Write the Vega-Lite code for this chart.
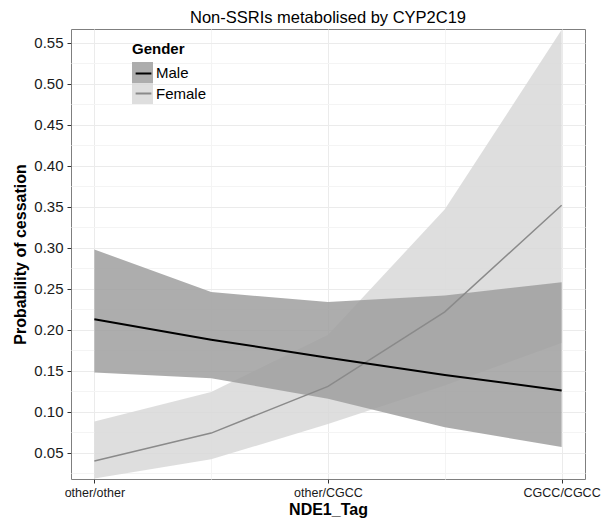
{
  "$schema": "https://vega.github.io/schema/vega-lite/v6.json",
  "width": 514,
  "height": 450,
  "autosize": {"type": "none"},
  "padding": {"left": 71, "top": 29, "right": 22, "bottom": 45},
  "config": {
    "font": "Liberation Sans",
    "view": {"stroke": "#7f7f7f", "strokeWidth": 1},
    "legend": {"padding": 0}
  },
  "title": {
    "text": "Non-SSRIs metabolised by CYP2C19",
    "fontSize": 16.5,
    "fontWeight": "normal",
    "color": "#000000",
    "anchor": "middle",
    "offset": 3
  },
  "data": {
    "values": [
      {"NDE1_Tag": 0, "Gender": "Male", "p": 0.213, "lo": 0.148, "hi": 0.298},
      {"NDE1_Tag": 0.5, "Gender": "Male", "p": 0.188, "lo": 0.141, "hi": 0.246},
      {"NDE1_Tag": 1, "Gender": "Male", "p": 0.166, "lo": 0.116, "hi": 0.234},
      {"NDE1_Tag": 1.5, "Gender": "Male", "p": 0.145, "lo": 0.081, "hi": 0.242},
      {"NDE1_Tag": 2, "Gender": "Male", "p": 0.126, "lo": 0.057, "hi": 0.258},
      {"NDE1_Tag": 0, "Gender": "Female", "p": 0.040, "lo": 0.0185, "hi": 0.088},
      {"NDE1_Tag": 0.5, "Gender": "Female", "p": 0.074, "lo": 0.042, "hi": 0.124},
      {"NDE1_Tag": 1, "Gender": "Female", "p": 0.131, "lo": 0.085, "hi": 0.194},
      {"NDE1_Tag": 1.5, "Gender": "Female", "p": 0.222, "lo": 0.132, "hi": 0.347},
      {"NDE1_Tag": 2, "Gender": "Female", "p": 0.352, "lo": 0.184, "hi": 0.566}
    ]
  },
  "encoding": {
    "x": {
      "field": "NDE1_Tag",
      "type": "quantitative",
      "scale": {"domain": [-0.1, 2.1], "nice": false, "zero": false},
      "axis": {
        "title": "NDE1_Tag",
        "values": [0, 0.5, 1, 1.5, 2],
        "labelExpr": "datum.value == 0 ? 'other/other' : datum.value == 1 ? 'other/CGCC' : datum.value == 2 ? 'CGCC/CGCC' : ''",
        "domain": false,
        "grid": true,
        "gridColor": {"condition": {"test": "datum.value % 1 != 0", "value": "#f4f4f4"}, "value": "#ebebeb"},
        "tickColor": "#333333",
        "tickSize": 4,
        "tickOpacity": {"condition": {"test": "datum.value % 1 != 0", "value": 0}, "value": 1},
        "labelFontSize": 12.5,
        "labelColor": "#1a1a1a",
        "labelPadding": 3,
        "labelFlush": false,
        "labelOverlap": false,
        "titleFontSize": 16,
        "titleFontWeight": "bold",
        "titleColor": "#000000",
        "titlePadding": 3
      }
    }
  },
  "layer": [
    {
      "transform": [{"filter": "datum.Gender == 'Female'"}],
      "mark": {"type": "area", "opacity": 0.85, "interpolate": "linear", "clip": true},
      "encoding": {
        "y": {
          "field": "lo",
          "type": "quantitative",
          "scale": {"domain": [0.018, 0.567], "nice": false, "zero": false},
          "axis": {
            "title": "Probability of cessation",
            "values": [0.025, 0.05, 0.075, 0.1, 0.125, 0.15, 0.175, 0.2, 0.225, 0.25, 0.275, 0.3, 0.325, 0.35, 0.375, 0.4, 0.425, 0.45, 0.475, 0.5, 0.525, 0.55],
            "labelExpr": "round(datum.value * 1000) % 50 == 0 ? format(datum.value, '.2f') : ''",
            "domain": false,
            "grid": true,
            "gridColor": {"condition": {"test": "round(datum.value * 1000) % 50 != 0", "value": "#f4f4f4"}, "value": "#ebebeb"},
            "tickColor": "#333333",
            "tickSize": 4,
            "tickOpacity": {"condition": {"test": "round(datum.value * 1000) % 50 != 0", "value": 0}, "value": 1},
            "labelFontSize": 15,
            "labelColor": "#1a1a1a",
            "labelPadding": 4,
            "labelOverlap": false,
            "labelFlush": false,
            "titleFontSize": 16,
            "titleFontWeight": "bold",
            "titleColor": "#000000",
            "titlePadding": 5
          }
        },
        "y2": {"field": "hi"},
        "fill": {
          "field": "Gender",
          "type": "nominal",
          "sort": ["Male", "Female"],
          "scale": {"range": ["#9f9f9f", "#d8d8d8"]},
          "legend": {
            "orient": "none",
            "legendX": 61,
            "legendY": 13,
            "title": "Gender",
            "titleFontSize": 15,
            "titleFontWeight": "bold",
            "titleColor": "#000000",
            "titlePadding": 5,
            "labelFontSize": 15,
            "labelColor": "#000000",
            "labelOffset": 3,
            "symbolType": "square",
            "symbolSize": 441,
            "symbolStrokeWidth": 0,
            "symbolOpacity": 0.85,
            "rowPadding": 0
          }
        }
      }
    },
    {
      "transform": [{"filter": "datum.Gender == 'Male'"}],
      "mark": {"type": "area", "opacity": 0.85, "interpolate": "linear", "clip": true},
      "encoding": {
        "y": {
          "field": "lo",
          "type": "quantitative",
          "axis": {
            "title": "Probability of cessation",
            "values": [0.025, 0.05, 0.075, 0.1, 0.125, 0.15, 0.175, 0.2, 0.225, 0.25, 0.275, 0.3, 0.325, 0.35, 0.375, 0.4, 0.425, 0.45, 0.475, 0.5, 0.525, 0.55],
            "labelExpr": "round(datum.value * 1000) % 50 == 0 ? format(datum.value, '.2f') : ''",
            "domain": false,
            "grid": true,
            "gridColor": {"condition": {"test": "round(datum.value * 1000) % 50 != 0", "value": "#f4f4f4"}, "value": "#ebebeb"},
            "tickColor": "#333333",
            "tickSize": 4,
            "tickOpacity": {"condition": {"test": "round(datum.value * 1000) % 50 != 0", "value": 0}, "value": 1},
            "labelFontSize": 15,
            "labelColor": "#1a1a1a",
            "labelPadding": 4,
            "labelOverlap": false,
            "labelFlush": false,
            "titleFontSize": 16,
            "titleFontWeight": "bold",
            "titleColor": "#000000",
            "titlePadding": 5
          }
        },
        "y2": {"field": "hi"},
        "fill": {"field": "Gender", "type": "nominal", "sort": ["Male", "Female"]}
      }
    },
    {
      "transform": [{"filter": "datum.Gender == 'Female'"}],
      "mark": {"type": "line", "strokeWidth": 1.5, "clip": true},
      "encoding": {
        "y": {
          "field": "p",
          "type": "quantitative",
          "axis": {
            "title": "Probability of cessation",
            "values": [0.025, 0.05, 0.075, 0.1, 0.125, 0.15, 0.175, 0.2, 0.225, 0.25, 0.275, 0.3, 0.325, 0.35, 0.375, 0.4, 0.425, 0.45, 0.475, 0.5, 0.525, 0.55],
            "labelExpr": "round(datum.value * 1000) % 50 == 0 ? format(datum.value, '.2f') : ''",
            "domain": false,
            "grid": true,
            "gridColor": {"condition": {"test": "round(datum.value * 1000) % 50 != 0", "value": "#f4f4f4"}, "value": "#ebebeb"},
            "tickColor": "#333333",
            "tickSize": 4,
            "tickOpacity": {"condition": {"test": "round(datum.value * 1000) % 50 != 0", "value": 0}, "value": 1},
            "labelFontSize": 15,
            "labelColor": "#1a1a1a",
            "labelPadding": 4,
            "labelOverlap": false,
            "labelFlush": false,
            "titleFontSize": 16,
            "titleFontWeight": "bold",
            "titleColor": "#000000",
            "titlePadding": 5
          }
        },
        "stroke": {
          "field": "Gender",
          "type": "nominal",
          "scale": {"domain": ["Male", "Female"], "range": ["#000000", "#8a8a8a"]},
          "legend": {
            "orient": "none",
            "legendX": 61,
            "legendY": 33,
            "title": null,
            "labelExpr": "''",
            "labelFontSize": 15,
            "labelOffset": 3,
            "symbolType": "M-0.75,0H0.75",
            "symbolSize": 441,
            "symbolStrokeWidth": 2,
            "rowPadding": 0
          }
        }
      }
    },
    {
      "transform": [{"filter": "datum.Gender == 'Male'"}],
      "mark": {"type": "line", "strokeWidth": 2, "clip": true},
      "encoding": {
        "y": {
          "field": "p",
          "type": "quantitative",
          "axis": {
            "title": "Probability of cessation",
            "values": [0.025, 0.05, 0.075, 0.1, 0.125, 0.15, 0.175, 0.2, 0.225, 0.25, 0.275, 0.3, 0.325, 0.35, 0.375, 0.4, 0.425, 0.45, 0.475, 0.5, 0.525, 0.55],
            "labelExpr": "round(datum.value * 1000) % 50 == 0 ? format(datum.value, '.2f') : ''",
            "domain": false,
            "grid": true,
            "gridColor": {"condition": {"test": "round(datum.value * 1000) % 50 != 0", "value": "#f4f4f4"}, "value": "#ebebeb"},
            "tickColor": "#333333",
            "tickSize": 4,
            "tickOpacity": {"condition": {"test": "round(datum.value * 1000) % 50 != 0", "value": 0}, "value": 1},
            "labelFontSize": 15,
            "labelColor": "#1a1a1a",
            "labelPadding": 4,
            "labelOverlap": false,
            "labelFlush": false,
            "titleFontSize": 16,
            "titleFontWeight": "bold",
            "titleColor": "#000000",
            "titlePadding": 5
          }
        },
        "stroke": {"field": "Gender", "type": "nominal"}
      }
    }
  ]
}
